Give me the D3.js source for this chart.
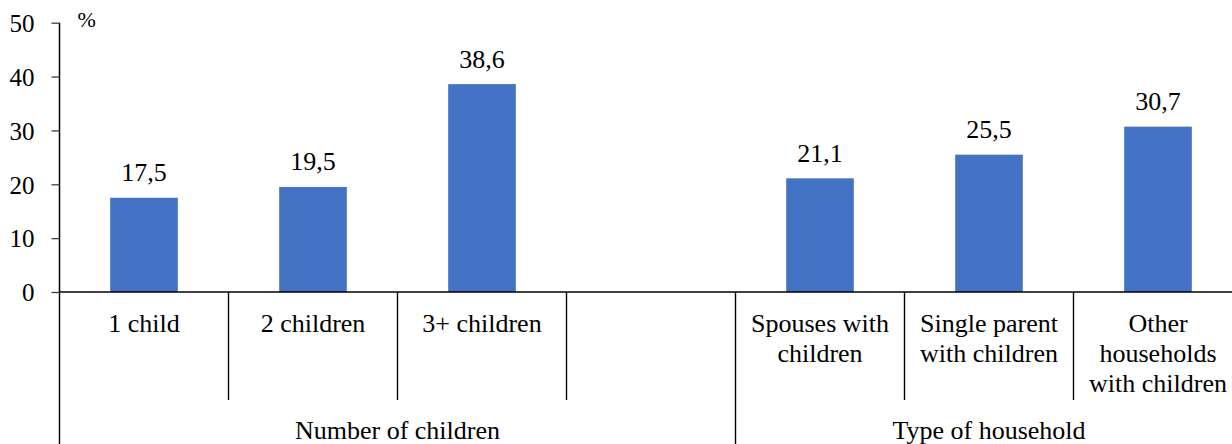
<!DOCTYPE html>
<html>
<head>
<meta charset="utf-8">
<script src="https://cdn.jsdelivr.net/npm/d3@7"></script>
<style>
  html, body { margin: 0; padding: 0; background: #fff; }
  svg { display: block; }
  svg text { font-family: 'Liberation Serif', 'Times New Roman', serif; fill: #000; }
</style>
</head>
<body>
<svg id="chart" width="1232" height="444"></svg>
<script>
// ---- data ----
const categories = ["1 child", "2 children", "3+ children", "", "Spouses with children", "Single parent with children", "Other households with children"];
const categoryLines = [["1 child"], ["2 children"], ["3+ children"], [], ["Spouses with", "children"], ["Single parent", "with children"], ["Other", "households", "with children"]];
const values = [17.5, 19.5, 38.6, null, 21.1, 25.5, 30.7];
const valueLabels = ["17,5", "19,5", "38,6", "", "21,1", "25,5", "30,7"];
const groups = ["Number of children", "Type of household"];
const groupSpans = [[0, 3], [4, 6]];
const yTicks = [0, 10, 20, 30, 40, 50];
const yUnit = "%";

// ---- layout ----
const FONT = "'Liberation Serif', 'Times New Roman', serif";
const svg = d3.select("#chart").attr("font-family", FONT);
const x0 = 59.5, x1 = 1242.5;
const yTop = 22.7, yBase = 292;

const x = d3.scaleBand().domain(d3.range(categories.length)).range([x0, x1]).padding(0);
const y = d3.scaleLinear().domain([0, 50]).range([yBase, yTop]);
const barW = x.bandwidth() * 0.4;

// bars
svg.append("g").selectAll("rect")
  .data(values.map((v, i) => ({v, i})).filter(d => d.v != null))
  .join("rect")
  .attr("x", d => x(d.i) + (x.bandwidth() - barW) / 2)
  .attr("y", d => y(d.v))
  .attr("width", barW)
  .attr("height", d => y(0) - y(d.v))
  .attr("fill", "#4472C4");

// value labels
svg.append("g").selectAll("text")
  .data(values.map((v, i) => ({v, i})).filter(d => d.v != null))
  .join("text")
  .attr("x", d => x(d.i) + x.bandwidth() / 2)
  .attr("y", d => y(d.v) - 16.5)
  .attr("text-anchor", "middle")
  .attr("font-family", FONT)
  .style("font-size", "26px")
  .text(d => valueLabels[d.i]);

// y axis
const yAxis = d3.axisLeft(y).tickValues(yTicks).tickSize(8).tickPadding(17).tickFormat(d3.format("d"));
const gy = svg.append("g").attr("transform", `translate(${x0},0)`).call(yAxis).attr("font-family", FONT);
gy.selectAll(".domain").attr("stroke", "#000").attr("stroke-width", 1.5).attr("d", `M0,${yTop}V${yBase}`);
gy.selectAll(".tick line").attr("stroke", "#404040").attr("stroke-width", 1.3);
gy.selectAll(".tick text")
  .attr("font-family", FONT)
  .style("font-size", "25px").attr("fill", "#000").attr("dy", "0.35em");

// unit label
svg.append("text").attr("x", 77.5).attr("y", 26.5).attr("font-family", FONT).style("font-size", "22px").text(yUnit);

// baseline
svg.append("line").attr("x1", x0).attr("x2", x1).attr("y1", yBase).attr("y2", yBase)
  .attr("stroke", "#000").attr("stroke-width", 1.5);

// category separators (short) and group separators (long)
const groupStarts = new Set(groupSpans.map(g => g[0]));
const seps = d3.range(categories.length + 1);
svg.append("g").selectAll("line")
  .data(seps)
  .join("line")
  .attr("x1", i => i < categories.length ? x(i) : x1)
  .attr("x2", i => i < categories.length ? x(i) : x1)
  .attr("y1", yBase)
  .attr("y2", i => (groupStarts.has(i) || i === categories.length) ? 444 : 400)
  .attr("stroke", "#000").attr("stroke-width", 1.4);

// category labels
const catG = svg.append("g");
categoryLines.forEach((lines, i) => {
  const t = catG.append("text")
    .attr("x", x(i) + x.bandwidth() / 2)
    .attr("y", 332)
    .attr("text-anchor", "middle")
    .attr("font-family", FONT)
    .style("font-size", "26px");
  lines.forEach((ln, k) => {
    t.append("tspan").attr("x", x(i) + x.bandwidth() / 2).attr("y", 332 + k * 29.8).text(ln);
  });
});

// group labels
svg.append("g").selectAll("text")
  .data(groups.map((g, i) => ({g, span: groupSpans[i]})))
  .join("text")
  .attr("x", d => (x(d.span[0]) + x(d.span[1]) + x.bandwidth()) / 2)
  .attr("y", 439)
  .attr("text-anchor", "middle")
  .attr("font-family", FONT)
  .style("font-size", "26px")
  .text(d => d.g);
</script>
</body>
</html>
